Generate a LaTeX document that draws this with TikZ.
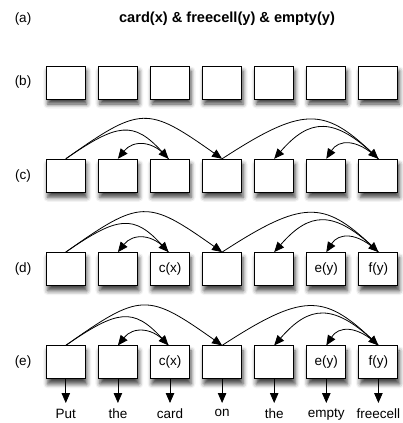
\documentclass[tikz,border=0pt]{standalone}
\usepackage{fontspec}
\setmainfont{Liberation Sans}
\usetikzlibrary{arrows.meta,shadows.blur}
\begin{document}
\begin{tikzpicture}[x=1pt,y=-1pt]
\tikzset{
 box/.style={draw, line width=1pt, fill=white, minimum width=39pt, minimum height=33pt, inner sep=0pt,
   font=\fontsize{13.5}{16}\selectfont,
   blur shadow={shadow xshift=1.5pt, shadow yshift=-5pt, shadow blur radius=4.5pt, shadow opacity=75}},
 arc/.style={line width=0.8pt, -{Triangle[length=10pt,width=8.5pt]}},
 lbl/.style={font=\fontsize{13.5}{16}\selectfont, inner sep=0pt},
 word/.style={font=\fontsize{13.5}{16}\selectfont, inner sep=0pt, anchor=north},
}
\useasboundingbox (0,0) rectangle (402,423);
\node[font=\bfseries\fontsize{14.6}{17}\selectfont] (title) at (227,19) {card(x) \& freecell(y) \& empty(y)};
\node[lbl] (la) at (23,19) {(a)};
\foreach \r/\y in {b/82.5, c/175.8} {
  \node[lbl] (l\r) at (23,\y) {(\r)};
  \foreach \i in {1,...,7} {
    \node[box] (\r\i) at ({65.8+52.1*(\i-1)}, \y) {};
  }
}
\foreach \r/\y in {d/269.1, e/362.4} {
  \node[lbl] (l\r) at (23,\y) {(\r)};
  \foreach \i/\t in {1/{},2/{},3/c(x),4/{},5/{},6/e(y),7/f(y)} {
    \node[box] (\r\i) at ({65.8+52.1*(\i-1)}, \y) {\t};
  }
}
\foreach \r in {c,d,e} {
  \draw[arc] (\r1.north) .. controls +(75,-53) and +(-75,-53) .. (\r4.north);
  \draw[arc] (\r1.north) .. controls +(52,-36) and +(-35,-38) .. ([xshift=-1.5pt]\r3.north);
  \draw[arc] ([xshift=-1.5pt]\r3.north) .. controls +(-15,-19) and +(15,-19) .. (\r2.north);
  \draw[arc] (\r4.north) .. controls +(80,-52) and +(-55,-52) .. (\r7.north);
  \draw[arc] (\r7.north) .. controls +(-45,-44) and +(35,-40) .. (\r5.north);
  \draw[arc] (\r7.north) .. controls +(-22,-21) and +(12,-19) .. (\r6.north);
}
\foreach \i/\w in {1/Put,2/the,3/card,4/on,5/the,6/empty,7/freecell} {
  \coordinate (t\i) at ({65.8+52.1*(\i-1)}, 403);
  \draw[arc] (e\i.south) -- (t\i);
  \node[word] (w\i) at ({65.8+52.1*(\i-1)}, 409) {\w};
}
\end{tikzpicture}
\end{document}
